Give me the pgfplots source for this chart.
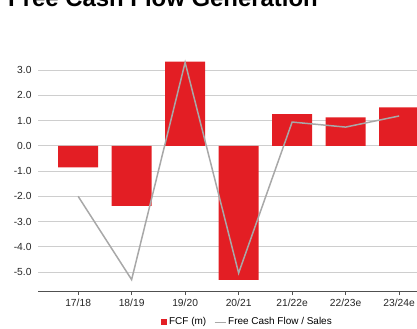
\documentclass[border=0pt]{standalone}
\usepackage{fontspec}
\setmainfont{Liberation Sans}
\usepackage{pgfplots}
\pgfplotsset{compat=1.18}
\definecolor{barred}{HTML}{E31E24}
\definecolor{linegray}{HTML}{A8A8A8}
\definecolor{gridgray}{HTML}{CECECE}
\definecolor{axisgray}{HTML}{505050}
\begin{document}
\begin{tikzpicture}
\useasboundingbox (0,0) rectangle (417bp,329bp);
\clip (0,0) rectangle (417bp,329bp);
\node[anchor=base west, font=\fontsize{24}{28}\selectfont\bfseries, inner sep=0pt] at (8bp,322bp) {Free Cash Flow Generation};
\begin{axis}[
  at={(38bp,38bp)}, anchor=south west,
  scale only axis, width=401.25bp, height=233.6bp,
  xmin=-0.75, xmax=6.75, ymin=-5.75, ymax=3.5,
  axis x line=bottom, axis y line=left,
  x axis line style={draw=axisgray, line width=0.8bp, -},
  y axis line style={draw=none},
  xtick=data, xticklabels={17/18,18/19,19/20,20/21,21/22e,22/23e,23/24e},
  ytick={-5,-4,-3,-2,-1,0,1,2,3},
  yticklabels={-5.0,-4.0,-3.0,-2.0,-1.0,0.0,1.0,2.0,3.0},
  ymajorgrids, major grid style={draw=gridgray, line width=0.8bp},
  x tick style={draw=axisgray, line width=0.6bp},
  major tick length=4bp,
  tick align=outside,
  y tick style={draw=none},
  ticklabel style={font=\fontsize{10.3}{12}\selectfont, text=black!85},
  yticklabel style={xshift=1bp},
  xticklabel style={yshift=-1bp},
  legend style={at={(0.522,-0.133)}, anchor=center, legend columns=2, draw=none, fill=none,
    font=\fontsize{10}{12}\selectfont, /tikz/every even column/.append style={column sep=6bp}},
  clip=false,
]
\addplot[fill=barred, draw=none, ybar, bar width=40bp, bar shift=0pt,
  legend image code/.code={\fill[barred] (0bp,-3bp) rectangle (6bp,3bp);}]
  coordinates {(0,-0.85) (1,-2.38) (2,3.33) (3,-5.31) (4,1.25) (5,1.12) (6,1.52)};
\addlegendentry{FCF (m)}
\addplot[draw=linegray, line width=1.5bp, mark=none,
  legend image code/.code={\draw[linegray, line width=1bp] (0bp,0bp) -- (11bp,0bp);}]
  coordinates {(0,-2.0) (1,-5.3) (2,3.3) (3,-5.04) (4,0.94) (5,0.74) (6,1.18)};
\addlegendentry{Free Cash Flow / Sales}
\end{axis}
\end{tikzpicture}
\end{document}
